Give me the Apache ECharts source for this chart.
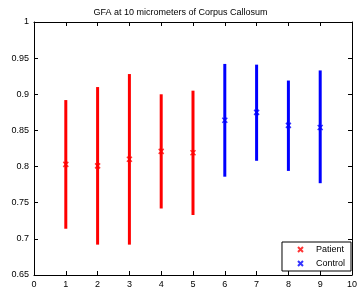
<!DOCTYPE html>
<html>
<head>
<meta charset="utf-8">
<script src="https://cdn.jsdelivr.net/npm/echarts@6/dist/echarts.min.js"></script>
<style>
  html, body { margin: 0; padding: 0; background: #fff; }
  #chart { width: 361px; height: 293px; }
</style>
</head>
<body>
<div id="chart"></div>
<script>
  // values
  var patientX = [1, 2, 3, 4, 5];
  var patientMean = [0.803, 0.801, 0.810, 0.821, 0.819];
  var patientLow = [0.714, 0.692, 0.692, 0.742, 0.733];
  var patientHigh = [0.892, 0.910, 0.928, 0.900, 0.905];

  var controlX = [6, 7, 8, 9];
  var controlMean = [0.864, 0.875, 0.857, 0.854];
  var controlLow = [0.786, 0.808, 0.794, 0.777];
  var controlHigh = [0.942, 0.941, 0.919, 0.933];

  var xTicks = [0, 1, 2, 3, 4, 5, 6, 7, 8, 9, 10];
  var yTicks = [0.65, 0.7, 0.75, 0.8, 0.85, 0.9, 0.95, 1];

  var font = 'Liberation Sans, Arial, sans-serif';
  var crossPath = 'path://M0,0L10,10M10,0L0,10';

  function bars(xs, lo, hi) {
    var out = [];
    for (var i = 0; i < xs.length; i++) out.push([xs[i], lo[i], hi[i]]);
    return out;
  }
  function points(xs, ys) {
    var out = [];
    for (var i = 0; i < xs.length; i++) out.push([xs[i], ys[i]]);
    return out;
  }
  function errorBar(color) {
    return function (params, api) {
      var a = api.coord([api.value(0), api.value(1)]);
      var b = api.coord([api.value(0), api.value(2)]);
      return {
        type: 'line',
        shape: { x1: a[0], y1: a[1], x2: b[0], y2: b[1] },
        style: { stroke: color, lineWidth: 3 }
      };
    };
  }

  var axisCommon = {
    axisLine: { show: true, onZero: false, lineStyle: { color: '#000', width: 1 } },
    axisTick: { show: true, inside: true, length: 4, lineStyle: { color: '#000' } },
    splitLine: { show: false }
  };

  var myChart = echarts.init(document.getElementById('chart'));
  myChart.setOption({
    animation: false,
    title: {
      text: 'GFA at 10 micrometers of Corpus Callosum',
      left: 'center',
      top: 3,
      textStyle: { fontFamily: font, fontSize: 9, fontWeight: 'normal', color: '#000' }
    },
    grid: { left: 34, right: 9, top: 22, bottom: 18 },
    legend: {
      data: ['Patient', 'Control'],
      orient: 'vertical',
      right: 10,
      bottom: 22,
      itemWidth: 5,
      itemHeight: 5,
      itemGap: 5,
      padding: [3, 6, 3, 15],
      borderColor: '#000',
      borderWidth: 1,
      backgroundColor: '#fff',
      align: 'left',
      textStyle: { fontFamily: font, fontSize: 9, color: '#000', padding: [0, 0, 0, 8] }
    },
    xAxis: [
      Object.assign({
        type: 'value', min: 0, max: 10, interval: 1, position: 'bottom',
        axisLabel: { fontFamily: font, fontSize: 9, color: '#000', margin: 5 }
      }, axisCommon),
      Object.assign({
        type: 'value', min: 0, max: 10, interval: 1, position: 'top',
        axisLabel: { show: false }
      }, axisCommon)
    ],
    yAxis: [
      Object.assign({
        type: 'value', min: 0.65, max: 1, interval: 0.05, position: 'left',
        axisLabel: {
          fontFamily: font, fontSize: 9, color: '#000', margin: 5,
          formatter: function (v) { return String(+v.toFixed(2)); }
        }
      }, axisCommon),
      Object.assign({
        type: 'value', min: 0.65, max: 1, interval: 0.05, position: 'right',
        axisLabel: { show: false }
      }, axisCommon)
    ],
    series: [
      {
        name: 'patientBars', type: 'custom',
        renderItem: errorBar('#ff0000'),
        data: bars(patientX, patientLow, patientHigh),
        z: 2
      },
      {
        name: 'controlBars', type: 'custom',
        renderItem: errorBar('#0000ff'),
        data: bars(controlX, controlLow, controlHigh),
        z: 2
      },
      {
        name: 'Patient', type: 'scatter',
        symbol: crossPath, symbolSize: 5,
        itemStyle: { color: '#ff0000', borderColor: '#ff0000', borderWidth: 1.5 },
        data: points(patientX, patientMean),
        z: 3
      },
      {
        name: 'Control', type: 'scatter',
        symbol: crossPath, symbolSize: 5,
        itemStyle: { color: '#0000ff', borderColor: '#0000ff', borderWidth: 1.5 },
        data: points(controlX, controlMean),
        z: 3
      }
    ]
  });
</script>
</body>
</html>
